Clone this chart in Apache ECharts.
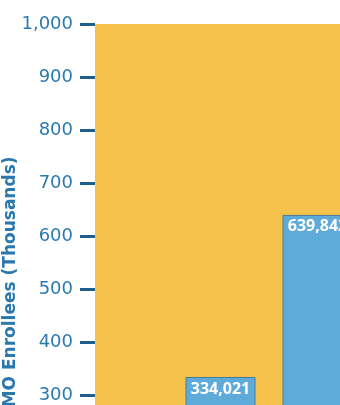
<!DOCTYPE html>
<html><head><meta charset="utf-8">
<script src="https://cdn.jsdelivr.net/npm/echarts@6/dist/echarts.min.js"></script>
<style>html,body{margin:0;padding:0;overflow:hidden;background:#fff;width:340px;height:405px}#c{width:340px;height:600px}</style>
</head><body><div id="c"></div>
<script>
const categories = ['Period 1', 'Period 2'];
const enrollees = [334.021, 639.842];
const valueLabels = ['334,021', '639,842'];
const yTicks = [0, 100, 200, 300, 400, 500, 600, 700, 800, 900, 1000];
const yAxisName = 'HMO Enrollees (Thousands)';

const chart = echarts.init(document.getElementById('c'), null, {renderer: 'canvas'});
const fmt = v => v >= 1000 ? Math.floor(v / 1000) + ',' + String(v % 1000).padStart(3, '0') : String(v);
chart.setOption({
  animation: false,
  grid: [
    {left: 95, right: 0, top: 24, height: 530, show: true, backgroundColor: '#F5C24C', borderWidth: 0, outerBoundsMode: 'none', containLabel: false},
    {left: 172, width: 194, top: 24, height: 530, show: false, outerBoundsMode: 'none', containLabel: false}
  ],
  xAxis: [
    {gridIndex: 0, type: 'category', data: [''], show: false},
    {gridIndex: 1, type: 'category', data: categories, show: false}
  ],
  yAxis: [
    {gridIndex: 0, type: 'value', min: yTicks[0], max: yTicks[yTicks.length - 1], interval: 100,
     name: yAxisName, nameLocation: 'middle', nameGap: 76, nameRotate: 90, nameMoveOverlap: false,
     nameTextStyle: {fontFamily: 'DejaVu Sans', fontWeight: 'bold', fontSize: 17, color: '#2A78AE'},
     axisLine: {show: false},
     axisTick: {show: true, length: 15, lineStyle: {color: '#1F5F90', width: 3}},
     axisLabel: {margin: 22, fontFamily: 'DejaVu Sans', fontSize: 18, color: '#2A7AB0', formatter: fmt},
     splitLine: {show: false}},
    {gridIndex: 1, type: 'value', min: yTicks[0], max: yTicks[yTicks.length - 1], interval: 100, show: false, splitLine: {show: false}}
  ],
  series: [{
    type: 'bar', xAxisIndex: 1, yAxisIndex: 1,
    data: enrollees, barWidth: 70,
    itemStyle: {color: '#5EABDA', borderColor: '#4A7A98', borderWidth: 1},
    label: {show: true, position: 'insideTop', distance: 4,
      formatter: p => valueLabels[p.dataIndex],
      fontFamily: 'Open Sans', fontWeight: 'bold', fontSize: 16, color: '#FFFFFF'}
  }]
});
</script></body></html>
